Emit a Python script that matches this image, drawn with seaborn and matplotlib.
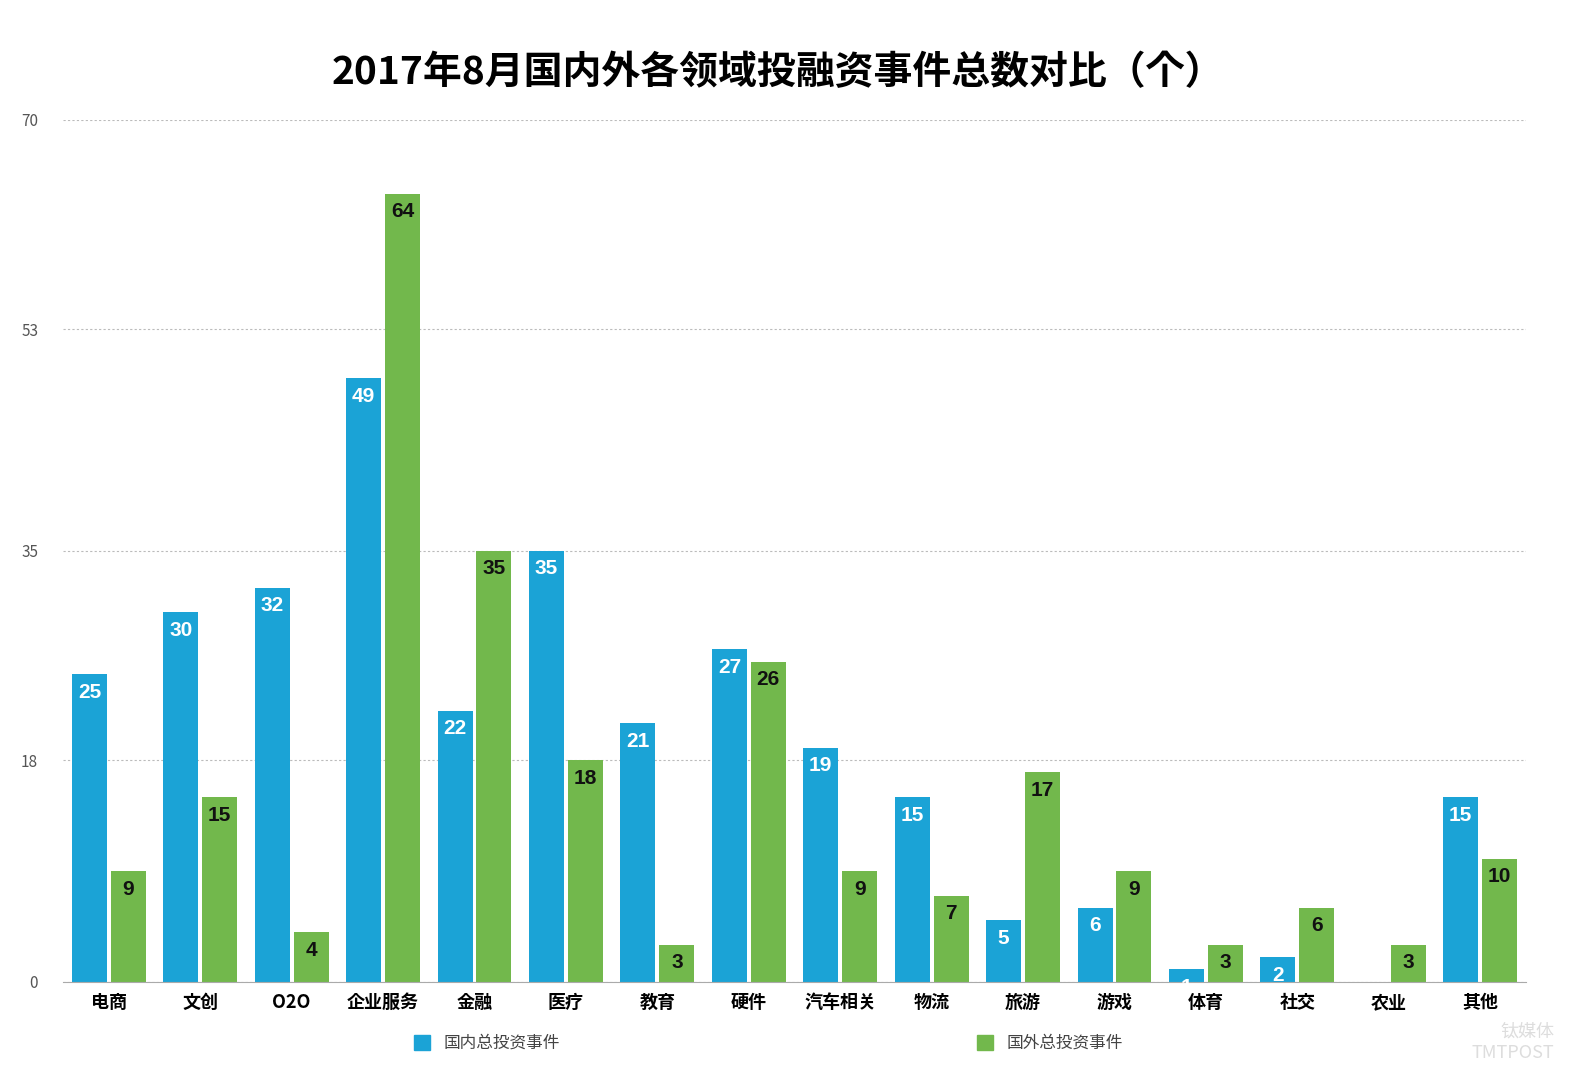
import matplotlib
matplotlib.use("Agg")
import matplotlib.pyplot as plt
from matplotlib import font_manager
import seaborn as sns
import pandas as pd
from matplotlib.patches import Patch

categories = ["电商","文创","O2O","企业服务","金融","医疗","教育","硬件","汽车相关","物流","旅游","游戏","体育","社交","农业","其他"]
domestic = [25,30,32,49,22,35,21,27,19,15,5,6,1,2,0,15]
foreign = [9,15,4,64,35,18,3,26,9,7,17,9,3,6,3,10]
series = ["国内总投资事件","国外总投资事件"]
yticks = [0,18,35,53,70]
colors = ["#1ba3d6", "#72b84c"]

cjk = [f.name for f in font_manager.fontManager.ttflist if "CJK" in f.name]
pref = [n for n in ["Noto Sans CJK SC","Noto Sans CJK JP","Noto Sans CJK TC","Noto Sans CJK KR"] if n in cjk]
fam = (pref or cjk or ["DejaVu Sans"])[0]
plt.rcParams["font.family"] = [fam, "DejaVu Sans"]

df = pd.DataFrame({"cat": categories*2, "val": domestic+foreign,
                   "s": [series[0]]*len(categories)+[series[1]]*len(categories)})

fig = plt.figure(figsize=(15.78,10.8), dpi=100)
ax = fig.add_axes([0.04, 0.091, 0.927, 0.798])
sns.barplot(data=df, x="cat", y="val", hue="s", palette=colors, ax=ax,
            width=0.85, gap=0.1, legend=False, saturation=1)
ax.set_ylim(0,70)
ax.set_xlim(-0.5, len(categories)-0.5)
ax.set_yticks(yticks)
ax.set_yticklabels([str(t) for t in yticks], fontsize=11, color="#555555")
ax.yaxis.grid(True, linestyle=(0,(2,2)), color="#bbbbbb", linewidth=0.8)
ax.set_axisbelow(True)
for sp in ["top","right","left"]:
    ax.spines[sp].set_visible(False)
ax.spines["bottom"].set_color("#aaaaaa")
ax.tick_params(axis="y", length=0, pad=18)
ax.tick_params(axis="x", length=0, pad=8, labelsize=13)
for l in ax.get_xticklabels():
    l.set_fontweight("bold")
ax.set_xlabel(""); ax.set_ylabel("")

for ci, cont in enumerate(ax.containers):
    for bar, v in zip(cont, domestic if ci==0 else foreign):
        if v <= 0:
            continue
        ax.text(bar.get_x()+bar.get_width()/2, v-0.7, str(v), ha="center", va="top",
                fontsize=15, fontweight="bold", color="white" if ci==0 else "#111111",
                fontfamily="Liberation Sans")

fig.text(0.493, 0.933, "2017年8月国内外各领域投融资事件总数对比（个）", ha="center", va="center",
         fontsize=28, fontweight="bold")
handles = [Patch(color=colors[0], label=series[0]), Patch(color=colors[1], label=series[1])]
fig.legend(handles=handles, loc="center", bbox_to_anchor=(0.487, 0.034), ncol=2, frameon=False,
           fontsize=12, handlelength=1, handleheight=1, columnspacing=25, labelcolor="#444444")
fig.text(0.985, 0.035, "钛媒体\nTMTPOST", ha="right", va="center", fontsize=13, color="#dddddd")
fig.savefig("out.png", dpi=100)
